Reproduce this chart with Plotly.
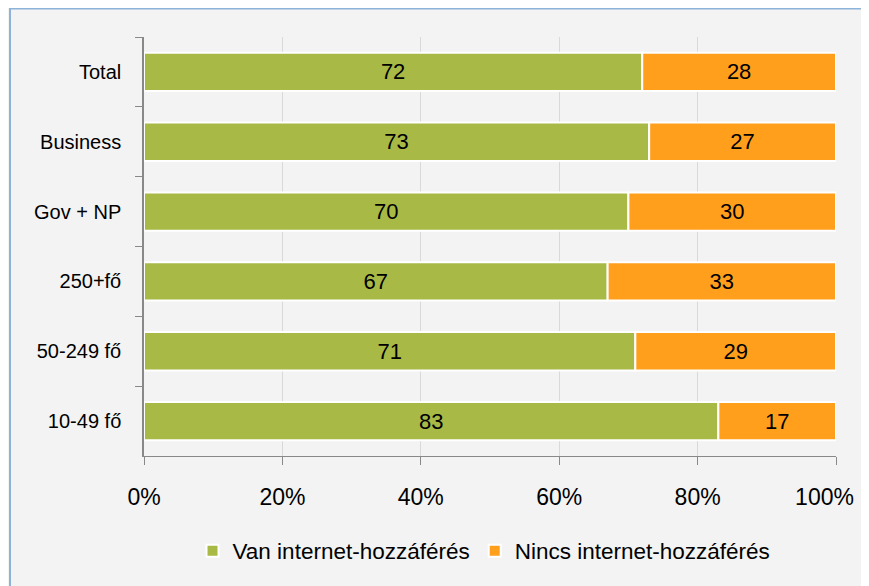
import plotly.graph_objects as go

categories = ["Total", "Business", "Gov + NP", "250+fő", "50-249 fő", "10-49 fő"]
van = [72, 73, 70, 67, 71, 83]
nincs = [28, 27, 30, 33, 29, 17]
series_names = ["Van internet-hozzáférés", "Nincs internet-hozzáférés"]
colors = ["#a8b946", "#ff9f1c"]
tick_vals = [0, 20, 40, 60, 80, 100]
tick_text = ["0%", "20%", "40%", "60%", "80%", "100%\u2003"]

FONT = "Liberation Sans, Arial, sans-serif"

# page is offset by 8px body margin; figure sized to fit the window
OFF = 8
W, H = 869 - OFF, 586 - OFF
L, T = 144 - OFF, 37 - OFF
R = W - (836 - OFF)
B = H - (456 - OFF)
pw, ph = W - L - R, H - T - B
BW = 0.55

def px2x(p):
    return (p - OFF - L) / pw

def px2y(p):
    return (H - B - (p - OFF)) / ph

fig = go.Figure()
bases = [[0] * len(van), van]
for name, vals, col, base in zip(series_names, [van, nincs], colors, bases):
    fig.add_trace(go.Bar(
        y=categories, x=vals, base=base, name=name, orientation="h",
        width=BW, offset=-BW / 2,
        marker=dict(color=col, line=dict(color="#ffffff", width=2)),
        text=[str(v) for v in vals], textposition="inside",
        insidetextanchor="middle",
        textfont=dict(color="#000000", size=22, family=FONT),
        hoverinfo="skip",
    ))

fig.add_shape(type="rect", xref="paper", yref="paper",
              x0=px2x(10), x1=px2x(900), y0=px2y(620), y1=px2y(8.5),
              fillcolor="#f3f3f3", line=dict(color="#8db3d9", width=2),
              layer="below")

fig.update_layout(
    template="none",
    width=W, height=H,
    margin=dict(l=L, r=R, t=T, b=B, pad=0, autoexpand=False),
    barmode="overlay",
    paper_bgcolor="#f3f3f3", plot_bgcolor="rgba(0,0,0,0)",
    font=dict(family=FONT, size=20, color="#000000"),
    uniformtext=dict(mode="show", minsize=10),
    showlegend=True,
    legend=dict(orientation="h", x=0.5 - 6 / pw, xanchor="center", y=px2y(551), yanchor="middle",
                font=dict(size=22.5, family=FONT), bgcolor="rgba(0,0,0,0)",
                tracegroupgap=0, traceorder="normal"),
    xaxis=dict(range=[0, 100], tickvals=tick_vals, ticktext=tick_text,
               showgrid=True, gridcolor="#d9d9d9", gridwidth=1,
               showline=True, linecolor="#888888", linewidth=1,
               ticks="outside", ticklen=8, tickcolor="#888888",
               ticklabelstandoff=12, automargin=False,
               ticklabeloverflow="allow",
               tickfont=dict(size=23, family=FONT), zeroline=False,
               fixedrange=True),
    yaxis=dict(autorange="reversed", type="category",
               showline=True, linecolor="#888888", linewidth=1.5,
               ticks="outside", ticklen=7, tickcolor="#888888",
               tickson="boundaries", showgrid=False, automargin=False,
               ticklabelstandoff=17,
               tickfont=dict(size=20, family=FONT), fixedrange=True),
)

fig.write_html(
    "out.html",
    post_script="document.documentElement.style.overflow='hidden';"
                "document.body.style.overflow='hidden';",
)
